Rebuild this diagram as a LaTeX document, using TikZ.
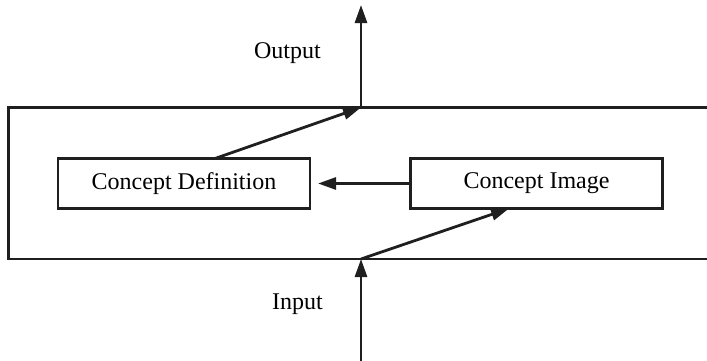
\documentclass[tikz,border=0pt]{standalone}
\usepackage{fontspec}
\setmainfont{Liberation Serif}
\usetikzlibrary{arrows.meta}
\begin{document}
\begin{tikzpicture}[x=1pt,y=-1pt,
  ln/.style={line width=2.8pt,draw=black!88},
  box/.style={ln,rectangle,minimum width=252pt,minimum height=50pt,inner sep=0pt,font=\fontsize{24}{28}\selectfont},
  lbl/.style={font=\fontsize{24}{28}\selectfont,inner sep=0pt,anchor=base},
  arr/.style={ln,-{Triangle[length=18pt,width=12pt]}}]
\useasboundingbox (0,0) rectangle (707,360);
% outer frame (open to the right)
\draw[ln] (720,107.5) -- (8.5,107.5) -- (8.5,259) -- (720,259);
\node[box] (cd) at (184,183.5) {Concept Definition};
\node[box] (ci) at (536.5,183.5) {Concept Image};
\coordinate (top) at (361,107.5);
\coordinate (bot) at (361,259);
\coordinate (outend) at (361,5);
\coordinate (inend) at (361,362);
\draw[arr] (ci.west) -- (318,183.5);
\draw[arr] (top) -- (outend);
\draw[arr] (inend) -- (bot);
\draw[arr] (bot) -- (509,208.5);
\draw[arr] (215,158.5) -- (top);
\node[lbl] (out) at (287.5,58) {Output};
\node[lbl] (in) at (297.5,309) {Input};
\end{tikzpicture}
\end{document}
